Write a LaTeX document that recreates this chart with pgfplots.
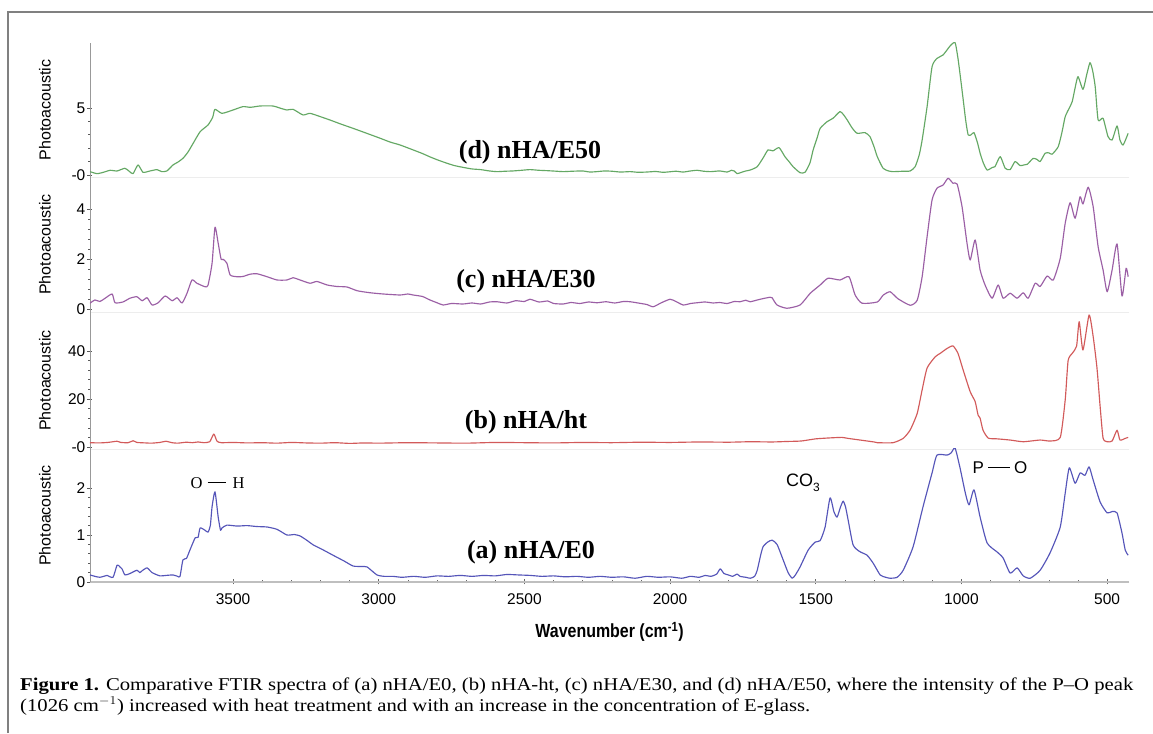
\documentclass[border=0pt]{standalone}
\usepackage{fontspec}
\setmainfont{Liberation Serif}
\setsansfont{Liberation Sans}
\newfontfamily\narrowsans[FakeStretch=0.84]{Liberation Sans}
\usepackage{pgfplots}
\pgfplotsset{compat=1.18}
\definecolor{cgreen}{RGB}{100,168,100}
\definecolor{cpurple}{RGB}{155,95,165}
\definecolor{cred}{RGB}{210,90,90}
\definecolor{cblue}{RGB}{85,85,185}
\pgfplotsset{panel/.style={
  scale only axis, width=1039pt,
  xmin=425, xmax=3991, x dir=reverse,
  axis x line*=bottom, axis y line*=left,
  xtick=\empty,
  x axis line style={draw=black!7, line width=0.8pt},
  y axis line style={draw=black!40, line width=0.8pt},
  ytick style={draw=black!65, line width=0.6pt},
  minor tick num=4,
  tick align=center,
  major tick length=5pt, minor tick length=3pt,
  yticklabel style={font=\sffamily\fontsize{15.5}{15.5}\selectfont, inner sep=2pt},
  /pgf/number format/assume math mode=true,
  /pgf/number format/1000 sep={},
  every axis y label/.style={at={(axis description cs:-0.0433,0.5)}, rotate=90, anchor=center, font=\sffamily\fontsize{16}{16}\selectfont},
  ylabel={Photoacoustic},
  every axis plot/.append style={line width=1.15pt, line join=round, smooth, tension=0.35},
}}
\begin{document}
\begin{tikzpicture}
\useasboundingbox (0pt,0pt) rectangle (1153pt,733pt);
\fill[white] (0pt,0pt) rectangle (1153pt,733pt);
\draw[black!50, line width=1.4pt] (8pt,0pt) -- (8pt,721pt) -- (1153pt,721pt);
% (d)
\begin{axis}[panel, at={(90pt,556pt)}, anchor=south west, height=134pt,
  ymin=-0.15, ymax=9.85, ytick={0,5}, yticklabels={-0,5}]
\addplot[cgreen] coordinates {
(3991,0.25)(3967,0.10)(3945,0.20)(3922,0.35)(3898,0.30)(3871,0.50)(3855,0.25)(3843,0.10)(3826,0.75)(3809,0.20)(3785,0.30)(3761,0.40)(3745,0.25)(3727,0.30)(3706,0.75)(3690,0.95)(3672,1.24)(3655,1.70)(3637,2.36)(3613,3.23)(3586,3.73)(3570,4.30)(3562,4.90)(3538,4.60)(3500,4.85)(3466,5.10)(3440,5.05)(3407,5.15)(3363,5.15)(3340,5.00)(3315,4.85)(3294,4.90)(3260,4.48)(3236,4.60)(3200,4.35)(3167,4.10)(3130,3.80)(3088,3.48)(3040,3.10)(2995,2.74)(2960,2.45)(2927,2.24)(2882,1.87)(2850,1.60)(2824,1.35)(2795,1.10)(2765,0.87)(2740,0.70)(2711,0.57)(2680,0.45)(2650,0.40)(2620,0.30)(2594,0.25)(2565,0.28)(2540,0.30)(2510,0.35)(2481,0.40)(2450,0.35)(2420,0.32)(2390,0.28)(2367,0.25)(2335,0.28)(2300,0.30)(2275,0.22)(2251,0.25)(2225,0.30)(2200,0.28)(2170,0.22)(2137,0.25)(2110,0.20)(2080,0.22)(2050,0.26)(2024,0.20)(2000,0.24)(1980,0.28)(1955,0.22)(1930,0.30)(1907,0.35)(1885,0.28)(1860,0.25)(1830,0.30)(1804,0.22)(1790,0.35)(1780,0.30)(1770,0.10)(1755,0.20)(1740,0.30)(1725,0.37)(1701,0.62)(1680,1.30)(1664,1.87)(1647,1.80)(1626,2.04)(1606,1.37)(1590,0.95)(1578,0.62)(1554,0.17)(1537,0.20)(1520,0.90)(1509,1.87)(1495,2.80)(1485,3.48)(1461,3.98)(1441,4.23)(1417,4.73)(1405,4.50)(1392,4.10)(1375,3.50)(1358,3.11)(1331,3.16)(1314,2.86)(1300,2.10)(1289,1.37)(1269,0.50)(1250,0.30)(1235,0.25)(1200,0.28)(1176,0.30)(1159,0.62)(1145,1.50)(1135,2.61)(1118,5.10)(1101,8.08)(1084,8.70)(1063,8.96)(1039,9.63)(1022,9.88)(1012,8.70)(1003,7.20)(994,5.60)(985,4.00)(977,2.99)(967,3.00)(957,3.16)(945,2.40)(936,1.62)(925,0.90)(912,0.37)(895,0.55)(885,0.62)(867,1.37)(850,0.50)(833,0.40)(816,1.00)(799,0.70)(785,0.75)(774,0.80)(754,1.24)(740,1.15)(730,1.00)(713,1.62)(700,1.65)(689,1.55)(668,2.11)(655,3.20)(644,4.35)(630,5.00)(620,5.47)(610,6.50)(600,7.34)(583,6.39)(570,7.50)(559,8.38)(550,7.80)(541,6.59)(531,4.10)(514,4.23)(497,2.86)(483,2.61)(466,3.66)(456,2.60)(445,2.24)(428,3.11)
};
\end{axis}
% (c)
\begin{axis}[panel, at={(90pt,421pt)}, anchor=south west, height=135pt,
  ymin=-0.12, ymax=5.28, ytick={0,2,4}, yticklabels={0,2,4}]
\addplot[cpurple] coordinates {
(3991,0.23)(3974,0.36)(3957,0.30)(3939,0.43)(3915,0.60)(3905,0.25)(3878,0.28)(3854,0.43)(3830,0.49)(3812,0.33)(3795,0.45)(3778,0.16)(3757,0.25)(3733,0.52)(3709,0.33)(3692,0.45)(3675,0.24)(3658,0.63)(3641,1.16)(3624,1.03)(3596,0.89)(3586,0.95)(3572,1.83)(3562,3.27)(3551,2.63)(3541,1.99)(3534,1.99)(3521,1.83)(3510,1.36)(3486,1.29)(3466,1.30)(3442,1.39)(3418,1.41)(3383,1.29)(3349,1.16)(3315,1.16)(3294,1.25)(3270,1.16)(3236,1.03)(3212,1.10)(3177,0.96)(3143,0.90)(3109,0.88)(3074,0.73)(3030,0.65)(2985,0.60)(2927,0.56)(2900,0.60)(2882,0.56)(2850,0.50)(2824,0.36)(2800,0.25)(2779,0.16)(2750,0.22)(2711,0.20)(2680,0.24)(2650,0.20)(2620,0.28)(2594,0.29)(2560,0.24)(2530,0.33)(2500,0.30)(2481,0.39)(2450,0.28)(2420,0.32)(2400,0.22)(2367,0.20)(2340,0.26)(2310,0.22)(2280,0.28)(2251,0.25)(2220,0.29)(2190,0.24)(2160,0.30)(2137,0.29)(2100,0.22)(2080,0.18)(2058,0.09)(2030,0.25)(2000,0.39)(1980,0.30)(1955,0.16)(1930,0.22)(1907,0.25)(1880,0.28)(1852,0.24)(1830,0.26)(1804,0.22)(1780,0.30)(1760,0.29)(1740,0.35)(1725,0.29)(1691,0.39)(1657,0.47)(1650,0.45)(1633,0.16)(1599,0.03)(1554,0.16)(1519,0.63)(1485,0.96)(1458,1.23)(1417,1.16)(1386,1.29)(1365,0.56)(1341,0.23)(1289,0.28)(1269,0.55)(1245,0.69)(1218,0.41)(1176,0.15)(1152,0.35)(1135,1.29)(1118,2.89)(1101,4.36)(1084,4.83)(1063,4.96)(1046,5.23)(1029,5.03)(1015,5.00)(998,4.09)(981,2.63)(970,1.96)(953,2.76)(936,1.56)(919,0.96)(895,0.43)(874,0.96)(857,0.43)(833,0.63)(809,0.43)(788,0.65)(771,0.43)(747,1.03)(730,0.90)(706,1.32)(685,1.16)(661,2.03)(644,3.43)(627,4.25)(610,3.63)(593,4.49)(583,4.20)(565,4.87)(548,4.09)(531,2.49)(514,1.56)(500,0.69)(483,1.56)(466,2.60)(449,0.52)(435,1.63)(428,1.29)
};
\end{axis}
% (b)
\begin{axis}[panel, at={(90pt,284pt)}, anchor=south west, height=137pt,
  ymin=-0.83, ymax=56.25, ytick={0,20,40}, yticklabels={-0,20,40}]
\addplot[cred] coordinates {
(3991,1.8)(3960,1.7)(3930,1.9)(3898,2.4)(3885,1.9)(3860,1.8)(3843,2.6)(3830,1.9)(3800,1.7)(3780,1.6)(3751,1.9)(3730,2.4)(3710,1.8)(3690,1.6)(3660,2.0)(3640,1.8)(3620,2.1)(3600,1.8)(3580,2.2)(3566,5.4)(3555,2.4)(3540,1.8)(3500,1.9)(3450,1.7)(3400,1.8)(3350,1.6)(3300,1.9)(3250,1.7)(3200,1.6)(3150,1.8)(3100,1.5)(3050,1.7)(3000,1.6)(2900,1.8)(2800,1.7)(2700,1.6)(2600,1.9)(2500,1.8)(2400,1.7)(2300,1.9)(2200,1.8)(2100,2.0)(2000,1.9)(1900,2.1)(1800,2.0)(1725,2.2)(1650,2.1)(1600,2.3)(1550,2.5)(1500,3.4)(1450,3.8)(1410,4.0)(1390,3.6)(1348,2.9)(1300,2.1)(1289,1.8)(1235,1.8)(1200,3.6)(1176,7.1)(1152,14)(1135,23.8)(1118,32.9)(1090,37.6)(1073,39)(1049,41.1)(1029,42.1)(1012,39)(994,32)(970,23)(953,18.9)(943,13.3)(936,12)(926,7)(908,3.7)(878,3.4)(833,2.9)(788,2.2)(730,2.9)(696,2.5)(661,4)(644,19.6)(634,36)(620,39)(605,42)(596,52.2)(583,40.4)(562,55)(548,46)(535,33)(524,16.7)(514,3.7)(500,2.2)(483,2.5)(466,7)(456,2.9)(438,3.6)(428,4)
};
\end{axis}
% (a)
\begin{axis}[panel, at={(90pt,151pt)}, anchor=south west, height=133pt,
  ymin=0, ymax=2.83, ytick={0,1,2}, yticklabels={0,1,2},
  xtick={500,1000,...,3500},
  x axis line style={draw=black!25, line width=1.6pt},
  xtick style={draw=black!60, line width=0.6pt},
  xticklabel style={font=\sffamily\fontsize{15.5}{15.5}\selectfont, yshift=-6pt},
  xlabel={\narrowsans\bfseries Wavenumber (cm\textsuperscript{-1})},
  xlabel style={font=\fontsize{19}{19}\selectfont, yshift=-10pt}]
\addplot[cblue] coordinates {
(3991,0.15)(3974,0.12)(3957,0.10)(3939,0.13)(3932,0.14)(3912,0.10)(3898,0.36)(3888,0.32)(3881,0.28)(3871,0.15)(3854,0.18)(3830,0.25)(3820,0.20)(3812,0.24)(3795,0.30)(3778,0.20)(3751,0.13)(3730,0.14)(3706,0.15)(3690,0.12)(3682,0.12)(3672,0.47)(3660,0.50)(3648,0.68)(3630,0.94)(3620,0.95)(3613,1.15)(3596,1.10)(3586,1.06)(3578,1.20)(3572,1.60)(3562,1.92)(3551,1.38)(3543,1.10)(3538,1.15)(3521,1.21)(3486,1.19)(3452,1.20)(3418,1.18)(3383,1.17)(3349,1.12)(3315,1.00)(3290,1.01)(3270,0.98)(3245,0.88)(3225,0.79)(3190,0.68)(3157,0.57)(3120,0.45)(3088,0.34)(3060,0.33)(3040,0.32)(3006,0.15)(2980,0.12)(2951,0.12)(2920,0.10)(2880,0.12)(2840,0.10)(2800,0.13)(2760,0.12)(2720,0.14)(2680,0.12)(2640,0.14)(2600,0.13)(2560,0.16)(2520,0.15)(2480,0.14)(2440,0.12)(2400,0.13)(2360,0.11)(2320,0.12)(2280,0.10)(2240,0.12)(2200,0.10)(2160,0.11)(2120,0.08)(2080,0.12)(2040,0.10)(2000,0.11)(1960,0.08)(1930,0.12)(1900,0.10)(1880,0.14)(1860,0.12)(1840,0.17)(1828,0.28)(1815,0.18)(1800,0.15)(1785,0.12)(1770,0.17)(1760,0.12)(1740,0.10)(1725,0.08)(1710,0.12)(1701,0.25)(1690,0.55)(1681,0.75)(1665,0.85)(1650,0.89)(1633,0.80)(1612,0.47)(1595,0.20)(1581,0.08)(1570,0.15)(1554,0.32)(1526,0.68)(1502,0.85)(1485,0.88)(1468,1.17)(1451,1.79)(1438,1.50)(1427,1.38)(1415,1.60)(1406,1.72)(1398,1.60)(1389,1.32)(1372,0.79)(1350,0.65)(1324,0.57)(1303,0.40)(1279,0.15)(1260,0.10)(1245,0.08)(1221,0.10)(1200,0.25)(1166,0.75)(1132,1.60)(1101,2.32)(1084,2.70)(1049,2.70)(1035,2.75)(1022,2.85)(1005,2.43)(987,1.90)(974,1.64)(957,1.96)(936,1.38)(912,0.83)(878,0.64)(857,0.51)(833,0.19)(809,0.30)(788,0.13)(764,0.08)(730,0.25)(696,0.62)(661,1.17)(644,1.89)(630,2.43)(610,2.10)(593,2.32)(576,2.27)(562,2.45)(548,2.17)(524,1.70)(500,1.47)(483,1.50)(466,1.47)(449,1.04)(438,0.68)(428,0.57)
};
\end{axis}
% annotations
\node[font=\bfseries\fontsize{26}{26}\selectfont] at (530pt,581pt) {(d) nHA/E50};
\node[font=\bfseries\fontsize{26}{26}\selectfont] at (526pt,452pt) {(c) nHA/E30};
\node[font=\bfseries\fontsize{26}{26}\selectfont] at (526pt,311pt) {(b) nHA/ht};
\node[font=\bfseries\fontsize{26}{26}\selectfont] at (531pt,181pt) {(a) nHA/E0};
\node[font=\fontsize{16.5}{16.5}\selectfont, inner sep=0pt] at (217.5pt,250pt) {O\hspace{5pt}\rule[0.33em]{18pt}{0.8pt}\hspace{7pt}H};
\node[font=\sffamily\fontsize{18}{18}\selectfont, inner sep=0pt] at (803pt,250pt) {CO\raisebox{-0.3em}{\fontsize{12}{12}\selectfont 3}};
\node[font=\sffamily\fontsize{17}{17}\selectfont, inner sep=0pt] at (1000pt,265pt) {P\hspace{4pt}\rule[0.33em]{22pt}{0.8pt}\hspace{4pt}O};
% caption
\node[anchor=west, inner sep=0pt, font=\fontsize{18}{18}\selectfont] at (20pt,47pt) {\scalebox{1.15}[1]{\textbf{Figure 1.} Comparative FTIR spectra of (a) nHA/E0, (b) nHA-ht, (c) nHA/E30, and (d) nHA/E50, where the intensity of the P--O peak}};
\node[anchor=west, inner sep=0pt, font=\fontsize{18}{18}\selectfont] at (20pt,27pt) {\scalebox{1.15}[1]{(1026 cm$^{-1}$) increased with heat treatment and with an increase in the concentration of E-glass.}};
\end{tikzpicture}
\end{document}
